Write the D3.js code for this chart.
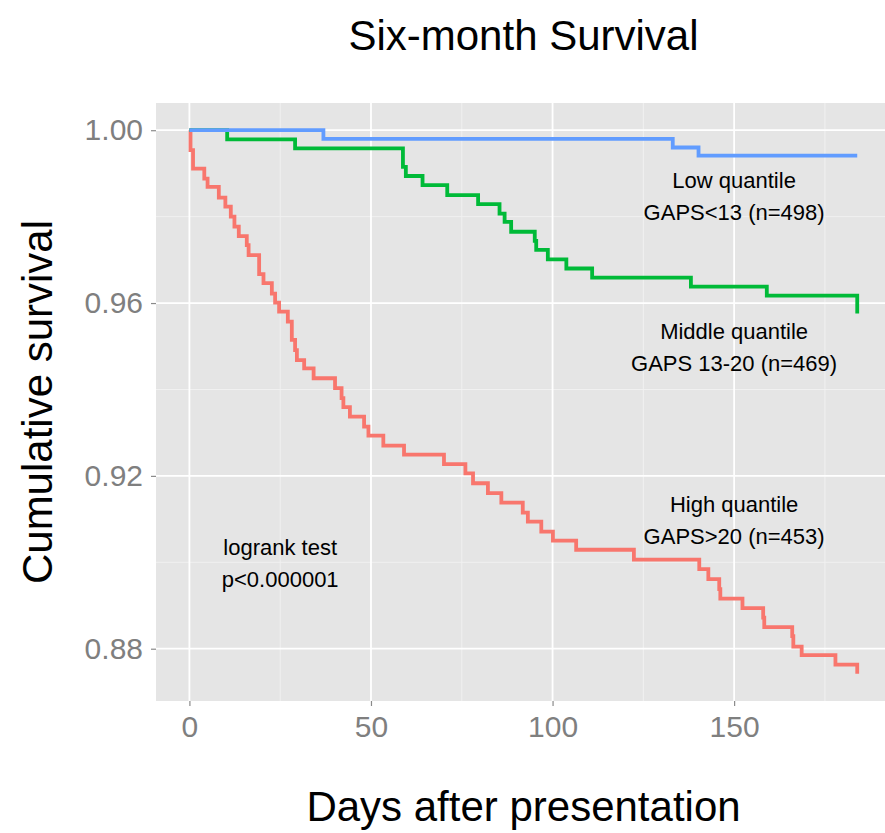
<!DOCTYPE html>
<html>
<head>
<meta charset="utf-8">
<script src="https://cdn.jsdelivr.net/npm/d3@7"></script>
<style>
  html, body { margin: 0; padding: 0; background: #ffffff; }
  svg { display: block; font-family: "Liberation Sans", Arial, sans-serif; }
</style>
</head>
<body>
<svg id="chart" width="885" height="833"></svg>
<script>
// Kaplan-Meier step curves: day of each step and survival after it
const highDays = [0, 0.3, 1.0, 4.1, 5.0, 8.1, 9.9, 11.4, 12.4, 13.6, 15.8, 16.3, 19.2, 20.4, 22.7, 23.6, 24.7, 27.1, 28.2, 29.1, 29.6, 31.6, 34.2, 40.1, 41.9, 42.4, 44.2, 48.1, 49.3, 53.4, 59.1, 70.1, 76.0, 78.1, 82.2, 85.9, 91.8, 93.2, 96.9, 100.1, 106.5, 122.4, 140.4, 142.9, 145.9, 146.2, 152.3, 158.0, 158.3, 166.0, 166.3, 168.6, 177.9, 183.9];
const highSurv = [1, 0.9954, 0.9911, 0.9888, 0.9869, 0.9844, 0.9823, 0.9800, 0.9777, 0.9755, 0.9734, 0.9711, 0.9667, 0.9646, 0.9622, 0.9601, 0.9580, 0.9557, 0.9515, 0.9491, 0.9468, 0.9449, 0.9426, 0.9403, 0.9380, 0.9359, 0.9337, 0.9314, 0.9293, 0.9270, 0.9249, 0.9227, 0.9206, 0.9183, 0.9160, 0.9138, 0.9115, 0.9094, 0.9071, 0.9050, 0.9029, 0.9006, 0.8984, 0.8961, 0.8938, 0.8916, 0.8894, 0.8872, 0.8850, 0.8829, 0.8805, 0.8785, 0.8763, 0.8742];

const middleDays = [0, 10.4, 29.1, 58.8, 59.6, 64.2, 71.0, 79.5, 85.4, 86.8, 88.6, 95.1, 95.5, 98.7, 103.8, 110.9, 138.1, 159.0, 183.9];
const middleSurv = [1, 0.9979, 0.9958, 0.9915, 0.9894, 0.9873, 0.9850, 0.9829, 0.9807, 0.9788, 0.9765, 0.9744, 0.9723, 0.9701, 0.9680, 0.9659, 0.9638, 0.9617, 0.9576];

const lowDays = [0, 36.9, 133.1, 140.2, 183.9];
const lowSurv = [1, 0.9980, 0.9960, 0.9941, 0.9941];

const groupNames = ["High", "Middle", "Low"];
const groupColors = ["#F8766D", "#00BA38", "#619CFF"];

const xTicks = [0, 50, 100, 150];
const xMinor = [25, 75, 125, 175];
const yTicks = [0.88, 0.92, 0.96, 1.00];
const yMinor = [0.90, 0.94, 0.98];

// Text annotations: [day, survival, first line, second line]
const annoDays = [150, 150, 150, 25];
const annoSurv = [0.985, 0.95, 0.91, 0.90];
const annoLine1 = ["Low quantile", "Middle quantile", "High quantile", "logrank test"];
const annoLine2 = ["GAPS<13 (n=498)", "GAPS 13-20 (n=469)", "GAPS>20 (n=453)", "p<0.000001"];

const titleText = "Six-month Survival";
const xTitle = "Days after presentation";
const yTitle = "Cumulative survival";

// Layout
const panel = { left: 156, right: 891, top: 103, bottom: 701 };
const svg = d3.select("#chart");

const x = d3.scaleLinear().domain([-9.2, 193.2]).range([panel.left, panel.right]);
const y = d3.scaleLinear().domain([0.8679, 1.0063]).range([panel.bottom, panel.top]);

// Panel background
svg.append("rect")
  .attr("x", panel.left).attr("y", panel.top)
  .attr("width", panel.right - panel.left).attr("height", panel.bottom - panel.top)
  .attr("fill", "#E5E5E5");

const grid = svg.append("g");
grid.selectAll(".xminor").data(xMinor).join("line")
  .attr("x1", d => x(d)).attr("x2", d => x(d))
  .attr("y1", panel.top).attr("y2", panel.bottom)
  .attr("stroke", "#F2F2F2").attr("stroke-width", 0.9);
grid.selectAll(".yminor").data(yMinor).join("line")
  .attr("x1", panel.left).attr("x2", panel.right)
  .attr("y1", d => y(d)).attr("y2", d => y(d))
  .attr("stroke", "#F2F2F2").attr("stroke-width", 0.9);
grid.selectAll(".xmajor").data(xTicks).join("line")
  .attr("x1", d => x(d)).attr("x2", d => x(d))
  .attr("y1", panel.top).attr("y2", panel.bottom)
  .attr("stroke", "#FFFFFF").attr("stroke-width", 1.8);
grid.selectAll(".ymajor").data(yTicks).join("line")
  .attr("x1", panel.left).attr("x2", panel.right)
  .attr("y1", d => y(d)).attr("y2", d => y(d))
  .attr("stroke", "#FFFFFF").attr("stroke-width", 1.8);

// Axes
const xAxis = svg.append("g")
  .attr("transform", `translate(0,${panel.bottom})`)
  .call(d3.axisBottom(x).tickValues(xTicks).tickSize(5).tickPadding(10).tickFormat(d3.format("d")));
const yAxis = svg.append("g")
  .attr("transform", `translate(${panel.left},0)`)
  .call(d3.axisLeft(y).tickValues(yTicks).tickSize(5).tickPadding(8).tickFormat(d3.format(".2f")));
[xAxis, yAxis].forEach(a => {
  a.select(".domain").remove();
  a.selectAll(".tick line").attr("stroke", "#8a8a8a").attr("stroke-width", 1.2);
  a.selectAll(".tick text")
    .attr("fill", "#7f7f7f")
    .style("font-size", "30px")
    .style("font-family", "'Liberation Sans', Arial, sans-serif");
});

// Survival curves
const line = d3.line()
  .x(d => x(d[0]))
  .y(d => y(d[1]))
  .curve(d3.curveStepAfter);

const curves = [
  d3.zip(highDays, highSurv),
  d3.zip(middleDays, middleSurv),
  d3.zip(lowDays, lowSurv)
];

svg.append("g").selectAll("path").data(curves).join("path")
  .attr("d", line)
  .attr("fill", "none")
  .attr("stroke", (d, i) => groupColors[i])
  .attr("stroke-width", 3.8)
  .attr("stroke-linejoin", "miter")
  .attr("stroke-linecap", "butt")
  .attr("class", (d, i) => "curve " + groupNames[i]);

// Annotations
const anno = svg.append("g").attr("font-size", 22).attr("fill", "#000").attr("text-anchor", "middle");
annoDays.forEach((d, i) => {
  const t = anno.append("text").attr("x", x(d)).attr("y", y(annoSurv[i]));
  t.append("tspan").attr("x", x(d)).attr("dy", -7.5).text(annoLine1[i]);
  t.append("tspan").attr("x", x(d)).attr("dy", 32.3).text(annoLine2[i]);
});

// Titles
svg.append("text")
  .attr("x", (panel.left + panel.right) / 2).attr("y", 50)
  .attr("text-anchor", "middle").attr("font-size", 42).attr("fill", "#000")
  .text(titleText);

svg.append("text")
  .attr("x", (panel.left + panel.right) / 2).attr("y", 821)
  .attr("text-anchor", "middle").attr("font-size", 42).attr("fill", "#000")
  .text(xTitle);

svg.append("text")
  .attr("transform", `translate(52,${(panel.top + panel.bottom) / 2}) rotate(-90)`)
  .attr("text-anchor", "middle").attr("font-size", 42).attr("fill", "#000")
  .text(yTitle);
</script>
</body>
</html>
